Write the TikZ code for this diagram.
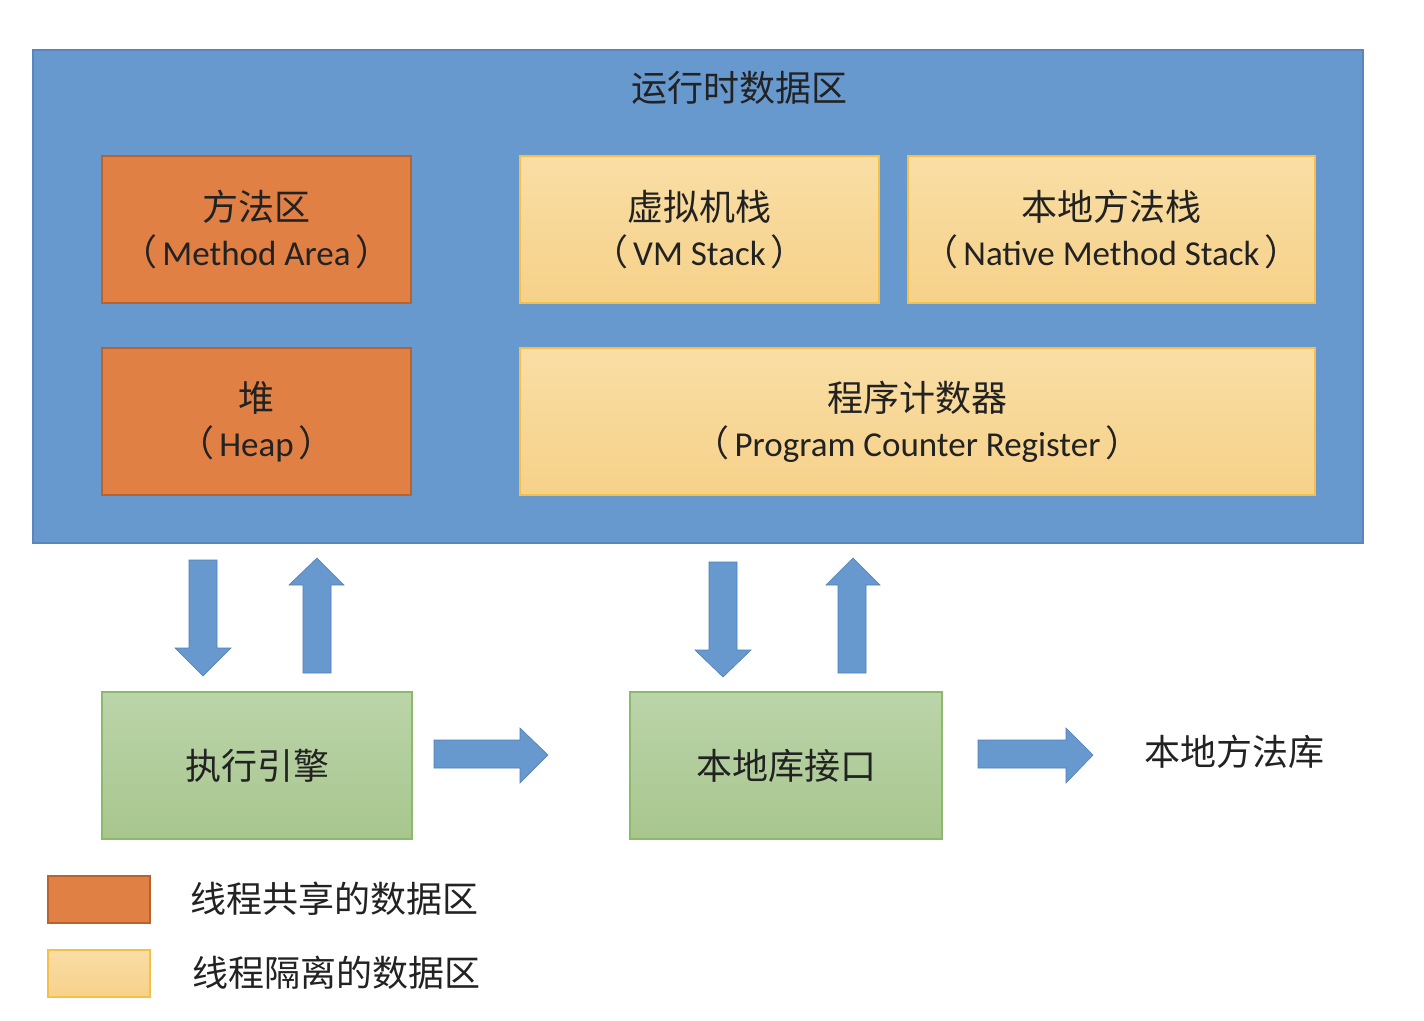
\documentclass[tikz,border=0pt]{standalone}
\usepackage{fontspec}
\setmainfont{Carlito}
\newfontfamily\cjk{Noto Sans CJK SC}
\newcommand\zh[1]{{\cjk\fontsize{36}{45}\selectfont #1}}
\newcommand\lp{\zh{（}\kern5pt}
\newcommand\rp{\kern5pt\zh{）}}
\definecolor{bluefill}{HTML}{6799CE}
\definecolor{blueline}{HTML}{5A86BD}
\definecolor{orgfill}{HTML}{E08044}
\definecolor{orgline}{HTML}{B8622E}
\definecolor{ylwtop}{HTML}{F9DEA4}
\definecolor{ylwbot}{HTML}{F6D18A}
\definecolor{ylwline}{HTML}{F3C04A}
\definecolor{grntop}{HTML}{BBD4A9}
\definecolor{grnbot}{HTML}{A8C68E}
\definecolor{grnline}{HTML}{8DB96C}
\definecolor{arrline}{HTML}{4F7FB8}
\definecolor{txtc}{HTML}{222222}
\begin{document}
\begin{tikzpicture}[
  x=1pt,y=-1pt,
  txt/.style={text=txtc, font=\fontsize{35}{45}\selectfont, align=center, inner sep=0pt},
  shared/.style={txt, draw=orgline, fill=orgfill, line width=1.5pt},
  private/.style={txt, draw=ylwline, top color=ylwtop, bottom color=ylwbot, line width=1.5pt},
  engine/.style={txt, draw=grnline, top color=grntop, bottom color=grnbot, line width=1.5pt},
  barrow/.style={fill=bluefill, draw=arrline, line width=0.6pt, line join=miter}
]
\useasboundingbox (0,0) rectangle (1424,1020);
\fill[white] (0,0) rectangle (1424,1020);

% runtime data area
\node[draw=blueline, fill=bluefill, line width=1.2pt, minimum width=1330, minimum height=493, inner sep=0pt] (rt) at (698,296.5) {};
\node[txt] (title) at (739,88) {\zh{运行时数据区}};

\node[shared, minimum width=309, minimum height=147] (ma) at (256.5,229.5)
  {\zh{方法区}\\\lp Method Area\rp};
\node[shared, minimum width=309, minimum height=147] (heap) at (256.5,421.5)
  {\zh{堆}\\\lp Heap\rp};
\node[private, minimum width=359, minimum height=147] (vm) at (699.5,229.5)
  {\zh{虚拟机栈}\\\lp VM Stack\rp};
\node[private, minimum width=407, minimum height=147] (nms) at (1111.5,229.5)
  {\zh{本地方法栈}\\\lp Native Method Stack\rp};
\node[private, minimum width=795, minimum height=147] (pc) at (917.5,421.5)
  {\zh{程序计数器}\\\lp Program Counter Register\rp};

% lower row
\node[engine, minimum width=310, minimum height=147] (ee) at (257,765.5) {\zh{执行引擎}};
\node[engine, minimum width=312, minimum height=147] (ni) at (786,765.5) {\zh{本地库接口}};
\node[txt, anchor=west] (lib) at (1144,752) {\zh{本地方法库}};

% block arrows
\fill[barrow] (189,560) -- (217,560) -- (217,648) -- (231,648) -- (203,676) -- (175,648) -- (189,648) -- cycle;
\fill[barrow] (303,673) -- (331,673) -- (331,585) -- (344,585) -- (317,558) -- (289,585) -- (303,585) -- cycle;
\fill[barrow] (709,562) -- (737,562) -- (737,650) -- (751,650) -- (723,677) -- (695,650) -- (709,650) -- cycle;
\fill[barrow] (838,673) -- (866,673) -- (866,585) -- (880,585) -- (853,558) -- (826,585) -- (838,585) -- cycle;
\fill[barrow] (434,740) -- (520,740) -- (520,728) -- (548,755) -- (520,783) -- (520,768) -- (434,768) -- cycle;
\fill[barrow] (978,740) -- (1066,740) -- (1066,728) -- (1093,755) -- (1066,783) -- (1066,768) -- (978,768) -- cycle;

% legend
\node[draw=orgline, fill=orgfill, line width=1.2pt, minimum width=102, minimum height=47, inner sep=0pt] (lg1) at (99,899.5) {};
\node[draw=ylwline, top color=ylwtop, bottom color=ylwbot, line width=1.5pt, minimum width=102, minimum height=47, inner sep=0pt] (lg2) at (99,973.5) {};
\node[txt, anchor=west] (lt1) at (190,899) {\zh{线程共享的数据区}};
\node[txt, anchor=west] (lt2) at (192,973) {\zh{线程隔离的数据区}};
\end{tikzpicture}
\end{document}
